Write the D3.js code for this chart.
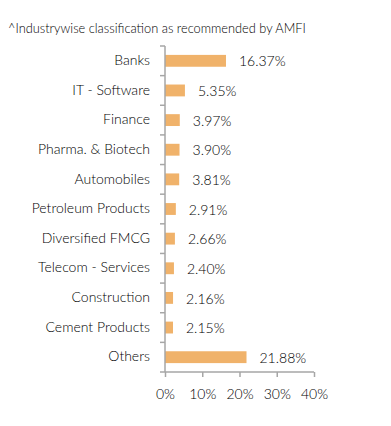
<!DOCTYPE html>
<html>
<head>
<meta charset="utf-8">
<script src="https://cdn.jsdelivr.net/npm/d3@7.9.0/dist/d3.min.js"></script>
<style>
  body { margin: 0; background: #fff; }
  svg { display: block; font-family: Lato, sans-serif; font-weight: 300; }
  .axis path, .axis line { stroke: #a6a6a6; stroke-width: 1.5; }
  .axis text { fill: #000; font-size: 14px; font-family: Lato, sans-serif; font-weight: 300; }
</style>
</head>
<body>
<div id="chart"></div>
<script>
const categories = ['Banks', 'IT - Software', 'Finance', 'Pharma. & Biotech', 'Automobiles',
  'Petroleum Products', 'Diversified FMCG', 'Telecom - Services', 'Construction',
  'Cement Products', 'Others'];
const values = [16.37, 5.35, 3.97, 3.90, 3.81, 2.91, 2.66, 2.40, 2.16, 2.15, 21.88];
const xTicks = [0, 10, 20, 30, 40];
const note = '^Industrywise classification as recommended by AMFI';

const width = 391;
const height = 426;
const margin = { top: 46, right: 77, bottom: 54, left: 165 };

const svg = d3.select('#chart')
  .append('svg')
  .attr('width', width)
  .attr('height', height);

svg.append('text')
  .attr('x', 8)
  .attr('y', 33)
  .attr('fill', '#000')
  .style('font-size', '12.8px')
  .text(note);

const x = d3.scaleLinear()
  .domain([0, 40])
  .range([margin.left, width - margin.right]);

const y = d3.scaleBand()
  .domain(categories)
  .range([margin.top, height - margin.bottom])
  .paddingInner(0.6)
  .paddingOuter(0.3);

const rows = categories.map((c, i) => ({ name: c, value: values[i] }));

svg.append('g')
  .selectAll('rect')
  .data(rows)
  .join('rect')
  .attr('x', x(0))
  .attr('y', d => y(d.name))
  .attr('width', d => x(d.value) - x(0))
  .attr('height', y.bandwidth())
  .attr('fill', '#f0b26a');

svg.append('g')
  .selectAll('text')
  .data(rows)
  .join('text')
  .attr('x', d => x(d.value) + 13)
  .attr('y', d => y(d.name) + y.bandwidth() / 2)
  .attr('dy', '0.4em')
  .attr('fill', '#000')
  .style('font-size', '14px')
  .text(d => d.value.toFixed(2) + '%');

// y axis: ticks sit between categories
const yAxis = svg.append('g')
  .attr('class', 'axis')
  .attr('transform', `translate(${margin.left},0)`);

yAxis.append('line')
  .attr('x1', 0).attr('x2', 0)
  .attr('y1', margin.top).attr('y2', height - margin.bottom);

const edges = d3.range(categories.length + 1).map(i => margin.top + i * (height - margin.top - margin.bottom) / categories.length);
yAxis.selectAll('.edge')
  .data(edges)
  .join('line')
  .attr('class', 'edge')
  .attr('x1', -5).attr('x2', 0)
  .attr('y1', d => d).attr('y2', d => d);

yAxis.selectAll('.lab')
  .data(categories)
  .join('text')
  .attr('class', 'lab')
  .attr('x', -15)
  .attr('y', d => y(d) + y.bandwidth() / 2)
  .attr('dy', '0.3em')
  .attr('text-anchor', 'end')
  .text(d => d);

svg.append('g')
  .attr('class', 'axis')
  .attr('transform', `translate(0,${height - margin.bottom})`)
  .call(d3.axisBottom(x).tickValues(xTicks).tickSize(5).tickPadding(12).tickFormat(d => d + '%'))
  .call(g => g.select('.domain').attr('d', `M${x(0)},0H${x(40)}`));
</script>
</body>
</html>
